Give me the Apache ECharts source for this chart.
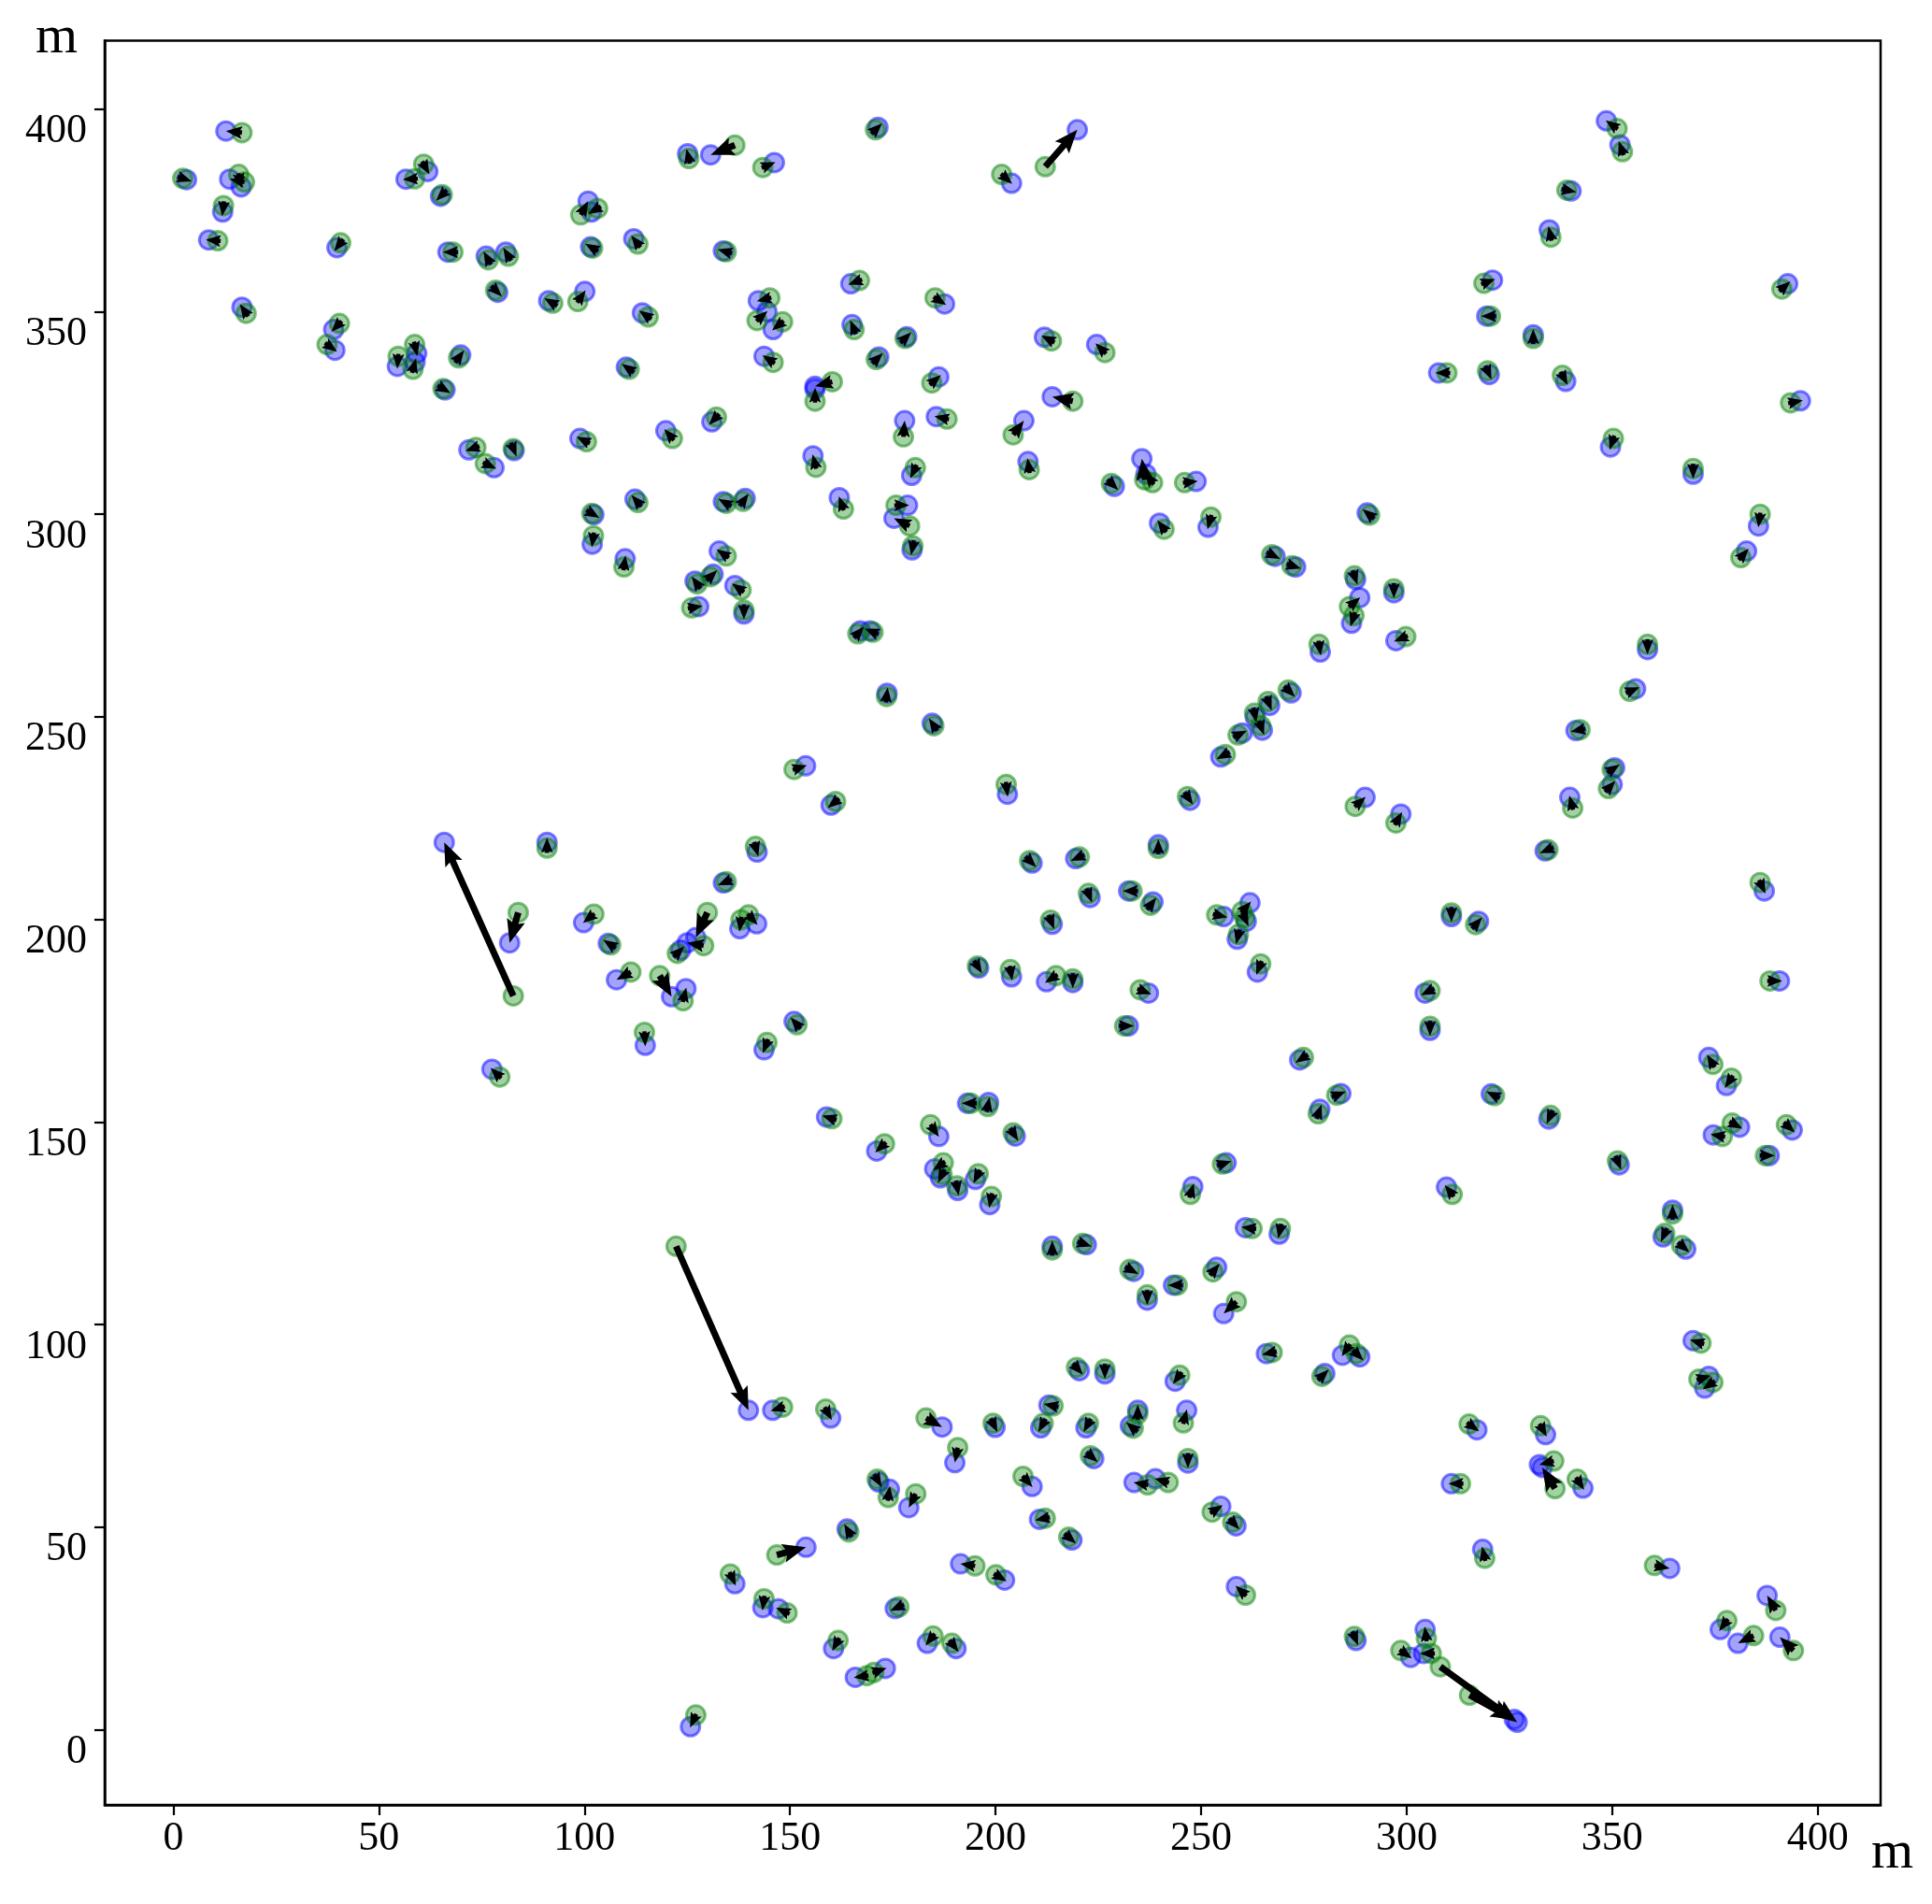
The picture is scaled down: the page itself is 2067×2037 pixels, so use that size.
<!DOCTYPE html>
<html>
  <head>
    <meta http-equiv="Content-Type" content="text/html; charset=utf-8">
    <title>Point displacement</title>
    <style>
      html, body { margin: 0; padding: 0; background: #fff; }
      #main { width: 2067px; height: 2037px; }
    </style>
    <script src="https://cdn.jsdelivr.net/npm/echarts@6/dist/echarts.min.js"></script>
  </head>
  <body>
    <div id="main"></div>
    <script type="text/javascript">
      // ticks (m)
      var xTicks = [0, 50, 100, 150, 200, 250, 300, 350, 400];
      var yTicks = [0, 50, 100, 150, 200, 250, 300, 350, 400];

      // start of each arrow (green circles)
      var greenPts = [
        [16.7,394.2],[2.3,382.9],[17.3,382.0],[15.9,383.9],[12.2,376.2],[10.8,367.5],[40.7,367.0],[17.7,349.6],
        [58.7,382.8],[60.9,386.4],[65.4,378.9],[68.0,364.7],[76.6,362.8],[81.5,363.7],[78.4,355.3],[92.3,352.1],
        [98.4,352.5],[99.1,373.9],[103.2,375.5],[102.0,365.7],[113.0,366.7],[115.5,348.7],[125.4,387.8],[136.6,391.1],
        [143.4,385.6],[134.5,364.8],[170.8,394.9],[201.5,383.9],[166.9,357.7],[145.1,353.4],[142.0,347.8],[148.2,347.5],
        [145.9,337.5],[165.6,345.6],[178.0,343.4],[185.3,353.4],[171.0,338.2],[184.5,332.4],[160.3,332.7],[156.1,327.9],
        [177.6,319.1],[188.2,323.5],[156.3,311.6],[180.5,311.5],[163.0,301.3],[179.1,297.1],[175.8,302.2],[179.9,292.2],
        [40.4,347.1],[37.4,341.9],[54.7,339.0],[58.7,341.9],[58.3,335.8],[69.4,338.6],[65.6,331.0],[73.6,316.5],
        [75.9,312.5],[82.7,316.2],[100.5,317.9],[110.9,335.8],[121.4,318.7],[132.1,324.0],[101.8,300.2],[102.2,294.7],
        [113.0,302.9],[109.6,287.0],[134.5,302.7],[138.6,303.2],[134.5,289.7],[127.4,282.8],[130.7,284.6],[126.1,276.9],
        [138.1,281.3],[138.8,276.3],[166.5,270.5],[170.2,270.9],[173.5,255.0],[185.0,247.8],[151.0,237.0],[161.1,229.1],
        [82.7,181.1],[90.9,217.6],[83.9,201.7],[102.3,201.3],[106.4,193.7],[129.9,201.7],[129.0,193.5],[122.6,191.6],
        [139.9,201.1],[138.1,199.9],[195.6,188.5],[141.6,218.0],[134.5,209.3],
        [212.1,385.8],[351.2,395.2],[352.5,389.5],[339.0,380.0],[335.1,368.4],[318.8,357.0],[320.4,348.9],[330.8,343.4],
        [309.8,334.9],[319.7,335.4],[337.9,334.3],[391.3,355.6],[393.4,327.5],[350.3,318.7],[369.7,311.3],[386.0,300.0],
        [381.3,289.3],[213.6,342.8],[226.6,339.9],[218.8,327.9],[204.3,319.6],[208.2,311.0],[236.3,308.5],[238.2,307.8],
        [228.2,307.6],[246.0,307.8],[241.0,296.3],[252.4,299.3],[267.2,290.0],[272.1,287.3],[291.0,299.8],[287.3,284.8],
        [286.1,277.2],[287.2,275.0],[296.9,281.6],[299.8,269.8],[278.7,267.9],[271.2,256.6],[266.3,253.8],[263.0,250.9],
        [264.5,247.8],[259.0,245.5],[255.9,240.7],[246.7,230.3],[202.6,233.3],[287.5,227.9],[297.4,223.8],[358.6,267.9],
        [354.3,256.3],[342.2,246.8],[350.0,237.0],[349.1,232.3],[340.4,227.5],[334.4,217.2],[386.0,209.1],[208.3,214.5],
        [220.4,215.4],[239.6,217.5],[222.6,206.4],[233.2,207.0],[237.7,203.5],[213.4,199.8],[253.8,201.1],[260.0,201.9],
        [260.6,200.4],[259.1,196.3],[264.5,189.0],[310.9,201.6],[316.8,198.7],
        [203.6,187.6],[214.7,186.1],[218.8,185.3],[235.2,182.6],[305.7,182.4],[305.7,173.6],[231.4,173.7],[388.4,184.8],
        [274.9,165.9],[283.0,156.6],[278.5,152.0],[321.4,156.5],[335.0,151.6],[374.5,164.2],[379.0,160.8],[379.2,149.7],
        [376.8,146.4],[392.4,149.3],[387.3,141.7],[351.3,140.4],[311.1,132.1],[364.7,127.3],[362.8,122.5],[366.9,119.5],
        [204.3,147.3],[255.2,139.6],[247.4,132.1],[262.4,123.7],[269.3,123.7],[213.8,118.4],[221.2,120.0],[232.7,113.6],
        [236.9,107.3],[244.2,109.7],[252.9,113.0],[258.6,105.6],[267.3,93.1],[286.1,94.9],[287.8,92.8],[279.4,87.2],
        [371.6,95.4],[371.1,86.5],[374.5,85.7],[219.7,89.4],[226.6,89.0],[244.8,87.5],[214.0,79.9],[234.6,77.9],
        [245.7,75.7],[199.4,75.6],[211.6,75.6],[222.6,75.6],[233.5,74.4],[223.1,67.6],[246.8,66.9],[206.7,62.5],
        [237.0,60.4],[242.0,61.0],[212.1,52.2],[217.8,47.5],[252.7,53.7],[257.7,51.2],[200.1,38.2],[260.8,33.2],
        [287.3,23.0],[304.8,22.5],[298.6,19.5],[306.0,18.8],[308.2,15.5],[315.3,8.5],[319.0,42.3],[315.2,75.4],
        [313.1,60.7],[332.6,75.0],[335.8,66.3],[336.1,59.5],[341.5,61.8],[360.3,40.5],[389.8,29.4],[377.9,26.9],
        [384.4,23.2],[394.1,19.5],
        [111.3,187.0],[118.3,186.1],[124.0,179.9],[114.6,172.1],[151.7,174.0],[144.4,169.6],[79.4,161.1],[160.2,150.8],
        [173.0,144.6],[184.2,149.3],[187.3,139.9],[187.0,137.0],[190.6,134.2],[195.8,137.2],[199.0,131.6],[194.0,154.6],
        [198.1,153.8],[122.3,119.3],[148.2,79.6],[158.7,79.1],[183.1,76.9],[190.8,69.6],[171.2,61.8],[173.9,57.3],
        [180.6,58.2],[164.3,48.8],[146.8,43.1],[135.5,38.4],[143.7,32.3],[149.3,28.8],[176.5,30.3],[161.7,22.0],
        [184.8,23.1],[189.4,21.3],[168.7,13.3],[170.4,14.1],[127.1,3.6],[195.0,40.4]
      ];

      // end of each arrow (blue circles), same order
      var bluePts = [
        [12.8,394.6],[3.2,382.6],[13.7,382.7],[16.5,380.8],[12.0,374.6],[8.6,367.7],[39.8,365.8],[16.7,351.1],
        [56.6,382.7],[61.9,384.6],[65.0,378.5],[66.8,364.7],[76.1,363.7],[80.9,364.7],[78.9,354.8],[91.3,352.7],
        [100.1,355.0],[100.9,377.3],[101.7,374.6],[101.5,366.0],[112.0,368.0],[114.1,349.7],[125.1,389.0],[130.7,388.7],
        [146.2,386.8],[133.8,365.0],[171.4,395.5],[203.9,381.7],[164.8,356.9],[142.3,352.7],[144.4,350.0],[145.9,345.6],
        [143.7,339.0],[165.1,346.8],[178.4,343.8],[187.6,351.9],[171.6,338.8],[186.2,333.9],[156.1,331.6],[156.1,330.9],
        [177.9,323.1],[185.6,324.1],[155.6,314.4],[179.6,309.6],[162.0,304.1],[175.3,299.0],[178.6,302.2],[179.7,291.2],
        [39.0,345.6],[39.3,340.5],[54.5,336.5],[59.2,339.7],[58.8,337.6],[69.9,339.3],[66.1,330.7],[71.9,315.9],
        [78.0,311.5],[82.9,315.7],[98.9,318.7],[110.2,336.3],[119.8,320.6],[131.0,322.8],[102.3,299.9],[101.9,292.6],
        [112.3,303.7],[109.9,289.0],[133.8,303.1],[139.1,303.9],[132.8,290.9],[126.9,283.5],[131.3,285.2],[127.8,277.2],
        [136.6,282.4],[138.8,275.4],[167.1,271.2],[169.5,271.2],[173.6,255.8],[184.6,248.4],[153.8,237.9],[160.0,228.2],
        [65.9,219.0],[90.9,219.0],[81.8,194.2],[99.8,199.2],[105.8,194.1],[127.1,195.5],[125.0,194.2],[123.4,192.4],
        [141.9,198.9],[137.8,197.7],[195.9,188.0],[142.0,216.6],[133.8,209.0],
        [219.9,394.9],[348.6,397.1],[351.9,391.2],[340.0,379.8],[334.7,370.2],[320.9,357.8],[319.5,348.9],[330.8,344.3],
        [307.8,334.9],[320.1,334.5],[338.7,332.8],[392.7,356.9],[395.8,328.0],[349.6,316.6],[369.7,309.9],[385.6,297.1],
        [382.7,290.9],[211.9,343.7],[224.6,341.9],[213.8,329.0],[206.9,323.1],[207.9,313.0],[235.6,313.7],[236.6,309.9],
        [228.9,306.9],[248.8,308.1],[239.9,297.8],[251.7,296.8],[268.0,289.6],[273.0,287.0],[290.4,300.3],[287.6,283.9],
        [288.6,279.4],[286.6,273.1],[296.9,280.6],[297.4,268.8],[279.0,266.0],[271.9,255.9],[266.7,252.8],[263.2,249.9],
        [264.9,246.7],[260.0,246.0],[254.8,240.1],[247.3,229.4],[202.9,230.9],[289.9,230.1],[298.6,226.0],[358.6,266.6],
        [355.7,256.9],[341.2,246.6],[350.6,237.4],[350.0,233.3],[339.7,230.1],[333.7,216.9],[387.0,207.0],[208.9,213.9],
        [219.5,215.0],[239.6,218.4],[223.0,205.4],[232.4,207.0],[238.3,204.3],[213.8,198.8],[255.5,200.7],[261.9,204.1],
        [261.0,199.5],[258.8,195.1],[263.7,187.0],[310.9,200.7],[317.5,199.5],
        [203.9,185.8],[212.4,184.6],[218.8,184.4],[237.2,181.8],[304.5,181.8],[305.7,172.6],[232.3,173.7],[390.7,184.8],
        [274.0,165.3],[284.0,157.0],[278.9,153.1],[320.6,156.9],[334.6,150.7],[373.5,165.9],[377.8,159.0],[381.0,148.7],
        [374.6,146.8],[393.8,148.0],[388.2,141.7],[351.7,139.4],[309.7,133.9],[364.7,128.2],[362.4,121.6],[367.9,118.6],
        [204.8,146.5],[256.1,139.9],[248.0,134.0],[260.8,123.9],[269.0,122.3],[213.8,119.3],[222.1,119.7],[233.6,113.1],
        [236.9,106.0],[243.3,109.7],[253.8,114.1],[255.5,102.7],[265.9,92.8],[284.4,92.4],[288.6,92.0],[280.1,87.9],
        [369.7,96.0],[373.5,87.2],[372.5,84.3],[220.4,88.6],[226.6,87.8],[243.7,86.0],[213.0,80.1],[234.6,78.8],
        [246.5,78.8],[199.9,74.6],[211.0,74.5],[222.0,74.5],[232.8,75.0],[223.9,66.9],[246.8,65.8],[208.9,60.0],
        [233.7,61.0],[238.9,61.9],[210.7,51.9],[218.6,46.8],[254.8,55.1],[258.5,50.3],[202.2,36.9],[258.6,35.3],
        [287.7,22.0],[304.5,24.7],[301.0,17.8],[304.1,18.8],[326.9,1.8],[326.2,2.5],[318.5,44.5],[317.1,74.0],
        [310.9,60.7],[333.8,72.8],[332.3,65.4],[333.0,64.7],[342.9,59.6],[364.0,39.8],[387.7,33.1],[376.3,24.7],
        [380.6,21.3],[390.8,22.8],
        [107.8,185.1],[121.2,180.9],[124.7,182.9],[114.8,168.9],[151.0,174.8],[143.7,167.8],[77.5,163.0],[158.9,151.2],
        [171.1,142.8],[186.2,146.4],[185.2,138.4],[186.6,136.2],[190.8,133.1],[195.1,135.8],[198.6,129.6],[193.2,154.6],
        [198.3,154.8],[139.9,78.8],[145.8,78.8],[159.9,76.9],[187.0,74.7],[190.1,65.9],[171.6,61.1],[174.2,59.3],
        [178.9,54.8],[163.9,49.5],[153.9,45.0],[136.6,36.0],[143.4,30.1],[147.2,29.8],[175.6,29.9],[160.6,20.0],
        [183.4,21.3],[190.4,20.0],[165.9,12.9],[173.2,15.1],[125.8,0.7],[191.5,40.9]
      ];

      var arrowData = greenPts.map(function (g, i) {
        return [g[0], g[1], bluePts[i][0], bluePts[i][1]];
      });

      // quiver-like arrow: shaft + head, short ones shrink to a small head
      var SHAFT = 7, HEAD_W = 20, HEAD_L = 25, HEAD_AX = 22, MIN_LEN = 16;
      function renderArrow(params, api) {
        var p0 = api.coord([api.value(0), api.value(1)]);
        var p1 = api.coord([api.value(2), api.value(3)]);
        var dx = p1[0] - p0[0], dy = p1[1] - p0[1];
        var L = Math.sqrt(dx * dx + dy * dy);
        var ux = L > 1e-6 ? dx / L : 1, uy = L > 1e-6 ? dy / L : 0;
        var vx = -uy, vy = ux;
        var local, ox, oy;
        if (L >= HEAD_L) {
          local = [[0, SHAFT / 2], [L - HEAD_AX, SHAFT / 2], [L - HEAD_L, HEAD_W / 2], [L, 0],
                   [L - HEAD_L, -HEAD_W / 2], [L - HEAD_AX, -SHAFT / 2], [0, -SHAFT / 2]];
          ox = p0[0]; oy = p0[1];
        } else {
          var len = Math.max(L, MIN_LEN), s = len / HEAD_L;
          local = [[0, SHAFT / 2], [HEAD_L - HEAD_AX, SHAFT / 2], [0, HEAD_W / 2], [HEAD_L, 0],
                   [0, -HEAD_W / 2], [HEAD_L - HEAD_AX, -SHAFT / 2], [0, -SHAFT / 2]].map(function (q) {
            return [q[0] * s, q[1] * s];
          });
          ox = (p0[0] + p1[0]) / 2 - ux * len / 2;
          oy = (p0[1] + p1[1]) / 2 - uy * len / 2;
        }
        var pts = local.map(function (q) {
          return [ox + q[0] * ux + q[1] * vx, oy + q[0] * uy + q[1] * vy];
        });
        return { type: 'polygon', shape: { points: pts }, style: { fill: '#000' } };
      }

      var myChart = echarts.init(document.getElementById('main'));
      var serif = "'Liberation Serif', 'Times New Roman', serif";

      myChart.setOption({
        animation: false,
        backgroundColor: '#fff',
        grid: {
          left: 112, right: 55, top: 43.5, bottom: 106,
          show: true, borderColor: '#000', borderWidth: 2.5, backgroundColor: 'transparent'
        },
        xAxis: {
          type: 'value', min: -16.7, max: 415.3,
          axisLine: { show: true, onZero: false, lineStyle: { color: '#000', width: 2.5 } },
          axisTick: { show: true, length: 11, lineStyle: { color: '#000', width: 2.2 }, customValues: xTicks },
          axisLabel: { customValues: xTicks, fontFamily: serif, fontSize: 44, color: '#000', margin: 14 },
          splitLine: { show: false }
        },
        yAxis: {
          type: 'value', min: -18.6, max: 416.9,
          axisLine: { show: true, onZero: false, lineStyle: { color: '#000', width: 2.5 } },
          axisTick: { show: true, length: 11, lineStyle: { color: '#000', width: 2.2 }, customValues: yTicks },
          axisLabel: { customValues: yTicks, fontFamily: serif, fontSize: 44, color: '#000', margin: 19,
                       verticalAlign: 'top', padding: [2, 0, 0, 0] },
          splitLine: { show: false }
        },
        graphic: [
          { type: 'text', left: 38, top: 12, style: { text: 'm', font: "58px 'Liberation Serif', serif", fill: '#000' } },
          { type: 'text', left: 2002, top: 1954, style: { text: 'm', font: "58px 'Liberation Serif', serif", fill: '#000' } }
        ],
        series: [
          {
            name: 'blue', type: 'scatter', data: bluePts, symbolSize: 20, silent: true, z: 2,
            itemStyle: { color: 'rgba(0,0,255,0.45)', borderColor: 'rgba(0,0,255,0.62)', borderWidth: 3 }
          },
          {
            name: 'green', type: 'scatter', data: greenPts, symbolSize: 20, silent: true, z: 3,
            itemStyle: { color: 'rgba(0,128,0,0.45)', borderColor: 'rgba(0,128,0,0.62)', borderWidth: 3 }
          },
          {
            name: 'arrows', type: 'custom', data: arrowData, renderItem: renderArrow, silent: true, z: 4,
            encode: { x: [0, 2], y: [1, 3] }
          }
        ]
      });
    </script>
  </body>
</html>
